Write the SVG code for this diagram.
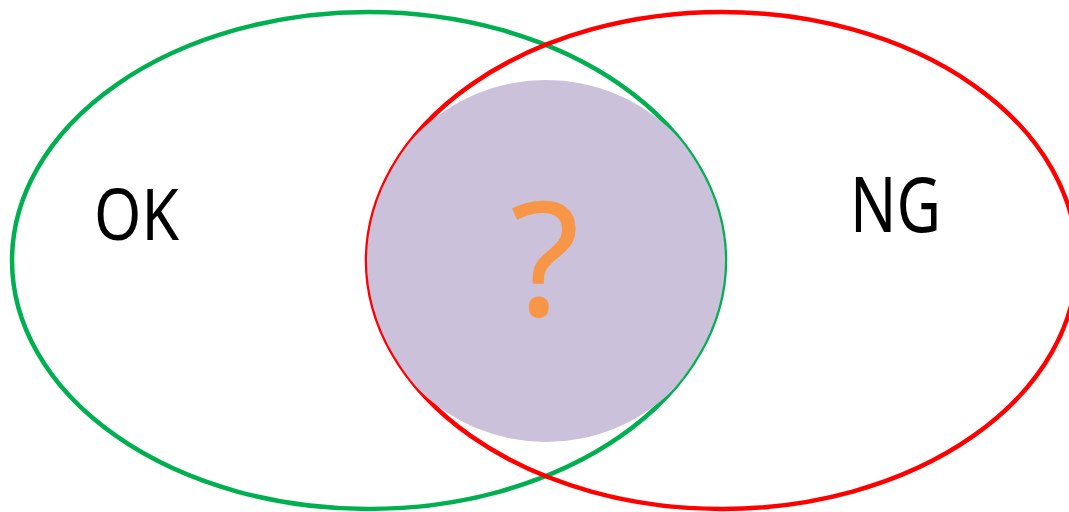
<svg xmlns="http://www.w3.org/2000/svg" width="1069" height="512" viewBox="0 0 1069 512">
<style>
.lbl{font-family:"Noto Sans","Liberation Sans",sans-serif;fill:#000;}
.ring{fill:none;stroke-width:4.5;}
</style>
<defs>
<clipPath id="cg"><ellipse cx="368.5" cy="260.5" rx="356.5" ry="248.5"/></clipPath>
<clipPath id="cr"><ellipse cx="722" cy="260.5" rx="355" ry="248.5"/></clipPath>
</defs>
<rect width="1069" height="512" fill="#fff"/>
<g id="ok">
<ellipse class="ring" cx="368.5" cy="260.5" rx="356.5" ry="248.5" stroke="#00B050"/>
<text class="lbl" x="94" y="240" font-size="72" textLength="85" lengthAdjust="spacingAndGlyphs">OK</text>
</g>
<g id="ng">
<ellipse class="ring" cx="722" cy="260.5" rx="355" ry="248.5" stroke="#FF0000"/>
<text class="lbl" x="850" y="232" font-size="76" textLength="91" lengthAdjust="spacingAndGlyphs">NG</text>
</g>
<g id="unknown">
<g clip-path="url(#cg)"><g clip-path="url(#cr)">
<circle cx="546" cy="261" r="181" fill="#CCC1DA"/>
</g></g>
<text x="545" y="316" text-anchor="middle" font-family="Noto Sans, Liberation Sans, sans-serif" font-size="160" fill="#F79646">?</text>
</g>
</svg>
